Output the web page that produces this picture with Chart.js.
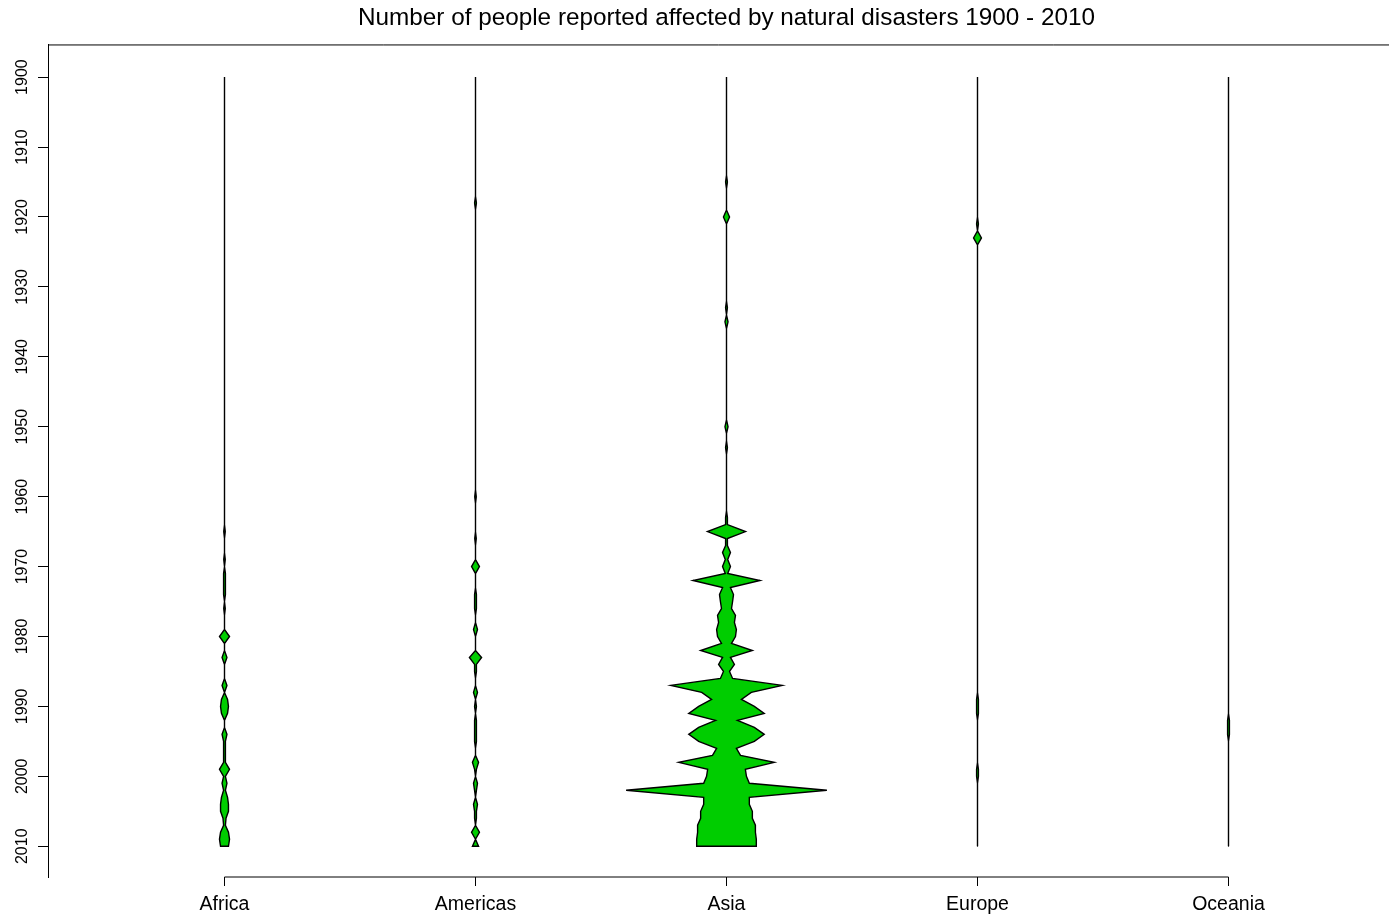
<!DOCTYPE html>
<html>
<head>
<meta charset="utf-8">
<script src="https://cdn.jsdelivr.net/npm/chart.js@4.4.0/dist/chart.umd.min.js"></script>
<style>
html,body{margin:0;padding:0;background:#fff;}
#wrap{width:1389px;height:914px;position:relative;}
</style>
</head>
<body>
<div id="wrap"><canvas id="c" width="1389" height="914"></canvas></div>
<script>
// ---------- data ----------
const chartTitle = 'Number of people reported affected by natural disasters 1900 - 2010';
const continents = ['Africa', 'Americas', 'Asia', 'Europe', 'Oceania'];
const yearTicks = [1900, 1910, 1920, 1930, 1940, 1950, 1960, 1970, 1980, 1990, 2000, 2010];
const firstYear = 1900;
const lastYear = 2010;

// people affected (millions), only years with reports
const africaYears    = [1965, 1969, 1971, 1972, 1973, 1974, 1976, 1980, 1983, 1987, 1989, 1990, 1991, 1994, 1995, 1996, 1997, 1998, 1999, 2000, 2001, 2002, 2003, 2004, 2005, 2006, 2007, 2008, 2009, 2010];
const africaAffected = [5, 5, 6, 6, 6, 6, 5, 33, 16, 16, 20, 26, 20, 16, 6, 6, 6, 6, 33, 6, 16, 6, 20, 26, 26, 10, 6, 26, 33, 26];

const americasYears    = [1918, 1960, 1966, 1970, 1974, 1975, 1976, 1979, 1983, 1984, 1985, 1988, 1990, 1992, 1993, 1994, 1995, 1998, 1999, 2001, 2002, 2004, 2005, 2006, 2008, 2010];
const americasAffected = [6, 5, 5, 26, 6, 6, 6, 13, 40, 6, 6, 13, 6, 6, 6, 6, 6, 20, 6, 13, 6, 13, 6, 6, 26, 20];

const asiaYears    = [1915, 1920, 1933, 1935, 1950, 1953, 1963, 1964, 1965, 1966, 1967, 1968, 1969, 1970, 1971, 1972, 1973, 1974, 1975, 1976, 1977, 1978, 1979, 1980, 1981, 1982, 1983, 1984, 1985, 1986, 1987, 1988, 1989, 1990, 1991, 1992, 1993, 1994, 1995, 1996, 1997, 1998, 1999, 2000, 2001, 2002, 2003, 2004, 2005, 2006, 2007, 2008, 2009, 2010];
const asiaAffected = [6, 20, 6, 10, 10, 6, 6, 6, 125, 6, 6, 26, 8, 26, 8, 220, 26, 46, 40, 33, 59, 52, 65, 59, 33, 170, 26, 52, 20, 40, 366, 163, 98, 183, 248, 72, 183, 248, 183, 65, 92, 314, 124, 131, 150, 660, 150, 150, 170, 170, 190, 190, 196, 196];

const europeYears    = [1921, 1923, 1989, 1990, 1991, 1999, 2000];
const europeAffected = [6, 26, 6, 6, 6, 6, 6];

const oceaniaYears    = [1992, 1993, 1994];
const oceaniaAffected = [6, 6, 6];

// ---------- build shapes ----------
const seriesYears = [africaYears, americasYears, asiaYears, europeYears, oceaniaYears];
const seriesValues = [africaAffected, americasAffected, asiaAffected, europeAffected, oceaniaAffected];
const halfWidthPerMillion = 0.4 / 660; // category units per million people

function shapePoints(ci) {
  const lookup = {};
  seriesYears[ci].forEach((y, k) => { lookup[y] = seriesValues[ci][k]; });
  const left = [], right = [];
  for (let y = firstYear; y <= lastYear; y++) {
    const w = (lookup[y] || 0) * halfWidthPerMillion;
    left.push({x: ci - w, y: y});
    right.push({x: ci + w, y: y});
  }
  return left.concat(right.reverse());
}

const green = '#00CD00';
const datasets = [];
continents.forEach((name, ci) => {
  datasets.push({
    label: name,
    data: shapePoints(ci),
    fill: 'shape',
    backgroundColor: green,
    borderColor: '#000',
    borderWidth: 1.4,
    pointRadius: 0,
    tension: 0,
    order: 1
  });
});
continents.forEach((name, ci) => {
  datasets.push({
    label: name + ' axis',
    data: [{x: ci, y: firstYear}, {x: ci, y: lastYear}],
    fill: false,
    borderColor: '#000',
    borderWidth: 1,
    pointRadius: 0,
    order: 5
  });
});
const yMin = 1895.4, yMax = 2014.4, xMin = -0.70319, xMax = 4.63944;
// x axis line (only between first and last category, like R)
datasets.push({
  label: 'x axis line',
  data: [{x: 0, y: yMax}, {x: continents.length - 1, y: yMax}],
  fill: false, borderColor: '#000', borderWidth: 1, pointRadius: 0, clip: false, order: 0
});
// top frame line
datasets.push({
  label: 'frame',
  data: [{x: xMin, y: yMin}, {x: xMax, y: yMin}],
  fill: false, borderColor: '#000', borderWidth: 1, pointRadius: 0, clip: false, order: 0
});

const fontFamily = '"Liberation Sans", Arial, Helvetica, sans-serif';

// center the title over the categories (as in the original plot)
const centerTitle = {
  id: 'centerTitle',
  afterLayout(chart) {
    const t = chart.titleBlock;
    if (!t) return;
    const c = chart.scales.x.getPixelForValue((continents.length - 1) / 2);
    const half = (t.right - t.left) / 2;
    t.left = c - half;
    t.right = c + half;
  }
};

new Chart(document.getElementById('c'), {
  type: 'line',
  data: {datasets: datasets},
  plugins: [centerTitle],
  options: {
    responsive: false,
    animation: false,
    devicePixelRatio: 1,
    layout: {padding: 0},
    plugins: {
      legend: {display: false},
      tooltip: {enabled: false},
      title: {
        display: true,
        text: chartTitle,
        fullSize: false,
        color: '#000',
        font: {family: fontFamily, size: 24.3, weight: 'normal'},
        padding: {top: 4, bottom: 11.8}
      }
    },
    scales: {
      x: {
        type: 'linear',
        position: 'bottom',
        min: xMin,
        max: xMax,
        afterFit: s => { s.height = 37; },
        afterBuildTicks: s => { s.ticks = continents.map((_, i) => ({value: i})); },
        ticks: {
          autoSkip: false,
          maxRotation: 0,
          color: '#000',
          padding: 7,
          font: {family: fontFamily, size: 19.5},
          callback: v => continents[Math.round(v)]
        },
        grid: {drawOnChartArea: false, drawTicks: true, tickLength: 9, color: '#000', lineWidth: 1},
        border: {display: false}
      },
      y: {
        type: 'linear',
        reverse: true,
        min: yMin,
        max: yMax,
        afterFit: s => { s.width = 48; },
        afterBuildTicks: s => { s.ticks = yearTicks.map(v => ({value: v})); },
        ticks: {
          autoSkip: false,
          minRotation: 90,
          maxRotation: 90,
          crossAlign: 'center',
          padding: -2,
          color: '#000',
          font: {family: fontFamily, size: 16},
          callback: v => String(v)
        },
        grid: {drawOnChartArea: false, drawTicks: true, tickLength: 10, color: '#000', lineWidth: 1},
        border: {display: true, color: '#000', width: 1}
      }
    }
  }
});
</script>
</body>
</html>
